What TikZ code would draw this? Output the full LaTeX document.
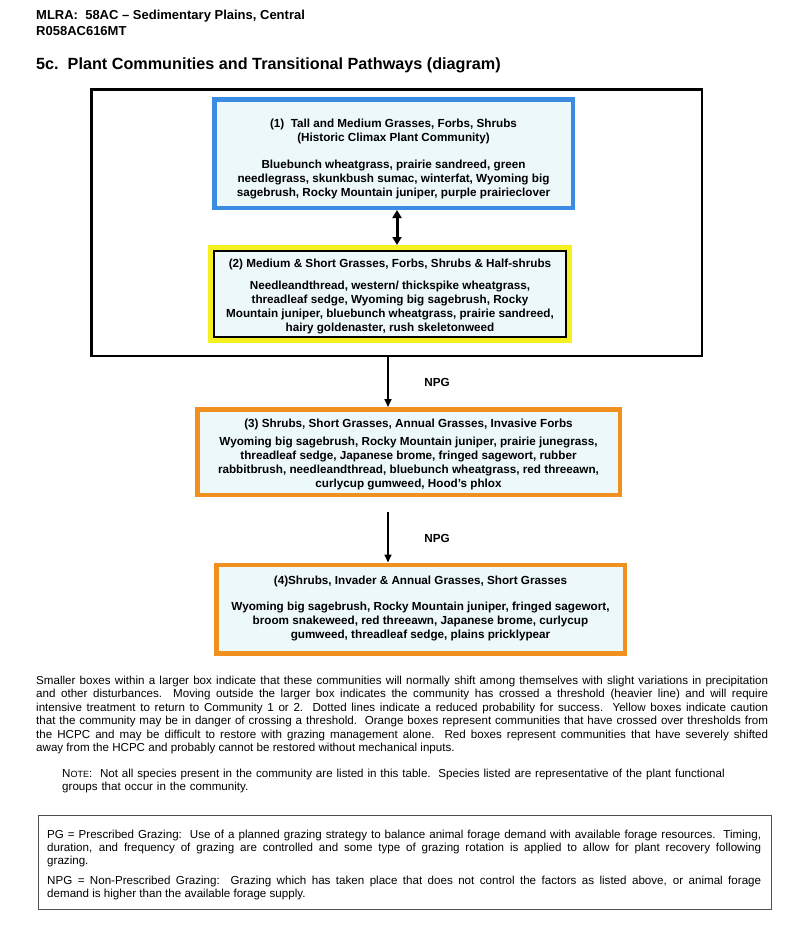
\documentclass[tikz,border=0pt]{standalone}
\usepackage{fontspec}
\setmainfont{Liberation Sans}
\usetikzlibrary{arrows.meta}
\definecolor{boxfill}{HTML}{ECF8FA}
\definecolor{blueb}{HTML}{3B8BE3}
\definecolor{yellowb}{HTML}{F5F020}
\definecolor{orangeb}{HTML}{F0911F}
\definecolor{legendb}{HTML}{505050}
\tikzset{
  boxtext/.style={font=\bfseries\fontsize{11.7}{14}\selectfont, align=center, inner sep=0pt},
  bluebox/.style={draw=blueb, line width=4.5pt, fill=boxfill},
  yellowbox/.style={draw=yellowb, line width=5pt, fill=boxfill},
  innerbox/.style={draw=black, line width=1.5pt},
  orangebox/.style={draw=orangeb, line width=4.5pt, fill=boxfill},
  outerbox/.style={draw=black, line width=2.5pt},
  npgarrow/.style={draw=black, line width=1.6pt, -{Triangle[length=8pt,width=7pt]}},
  dblarrow/.style={draw=black, line width=3pt, {Triangle[length=8pt,width=9pt]}-{Triangle[length=8pt,width=9pt]}},
  lbl/.style={font=\bfseries\fontsize{11.7}{14}\selectfont, inner sep=0pt},
  para/.style={font=\fontsize{11.6}{13.5}\selectfont, inner sep=0pt, anchor=north west},
  headtext/.style={font=\bfseries\fontsize{13}{15}\selectfont, anchor=west, inner sep=0pt},
}
\begin{document}
\begin{tikzpicture}[x=1pt,y=-1pt]
\useasboundingbox (0,0) rectangle (800,948);
\fill[white] (0,0) rectangle (800,948);

% header
\node[headtext] (h1) at (36,16.5) {MLRA:\ \ 58AC – Sedimentary Plains, Central};
\node[headtext] (h2) at (36,31.5) {R058AC616MT};
\node[font=\bfseries\fontsize{16.2}{19}\selectfont, anchor=west, inner sep=0pt] (title) at (36,65.5) {5c.\ \ Plant Communities and Transitional Pathways (diagram)};

% outer threshold box
\node[outerbox, minimum width=610.5pt, minimum height=266.5pt, inner sep=0pt] (outer) at (396.5,222.5) {};

% community 1
\node[bluebox, minimum width=358.5pt, minimum height=108.5pt, inner sep=0pt] (b1) at (393.5,153.5) {};
\node[boxtext] (t1) at (393.5,159) {(1)\ \ Tall and Medium Grasses, Forbs, Shrubs\\(Historic Climax Plant Community)\\[13pt]Bluebunch wheatgrass, prairie sandreed, green\\needlegrass, skunkbush sumac, winterfat, Wyoming big\\sagebrush, Rocky Mountain juniper, purple prairieclover};

% community 2
\node[yellowbox, minimum width=359pt, minimum height=93pt, inner sep=0pt] (b2) at (390,294) {};
\node[innerbox, minimum width=352pt, minimum height=86pt, inner sep=0pt] (b2i) at (b2.center) {};
\node[boxtext] (t2) at (390,296) {(2) Medium \& Short Grasses, Forbs, Shrubs \& Half-shrubs\\[8pt]Needleandthread, western/ thickspike wheatgrass,\\threadleaf sedge, Wyoming big sagebrush, Rocky\\Mountain juniper, bluebunch wheatgrass, prairie sandreed,\\hairy goldenaster, rush skeletonweed};

% community 3
\node[orangebox, minimum width=422.5pt, minimum height=85.5pt, inner sep=0pt] (b3) at (408.5,452) {};
\node[boxtext] (t3) at (408.5,454) {(3) Shrubs, Short Grasses, Annual Grasses, Invasive Forbs\\[4pt]Wyoming big sagebrush, Rocky Mountain juniper, prairie junegrass,\\threadleaf sedge, Japanese brome, fringed sagewort, rubber\\rabbitbrush, needleandthread, bluebunch wheatgrass, red threeawn,\\curlycup gumweed, Hood's phlox};

% community 4
\node[orangebox, minimum width=408.5pt, minimum height=88.5pt, inner sep=0pt] (b4) at (420.5,609) {};
\node[boxtext] (t4) at (420.5,608) {(4)Shrubs, Invader \& Annual Grasses, Short Grasses\\[12pt]Wyoming big sagebrush, Rocky Mountain juniper, fringed sagewort,\\broom snakeweed, red threeawn, Japanese brome, curlycup\\gumweed, threadleaf sedge, plains pricklypear};

% transitions
\draw[dblarrow] ([xshift=3.5pt]b1.south) -- ([xshift=3.5pt]b1.south |- b2.north);
\draw[npgarrow] ([xshift=-8.5pt]outer.south) -- ([xshift=-8.5pt]outer.south |- b3.north);
\node[lbl] (n1) at (437,382) {NPG};
\coordinate (c2) at (388,512);
\draw[npgarrow] (c2) -- (c2 |- b4.north);
\node[lbl] (n2) at (437,538) {NPG};

% explanatory paragraph
\node[para, text width=732pt, align=justify] (expl) at (36,675.5) {Smaller boxes within a larger box indicate that these communities will normally shift among themselves with slight variations in precipitation\linebreak and other disturbances.\ \ Moving outside the larger box indicates the community has crossed a threshold (heavier line) and will require\linebreak intensive treatment to return to Community 1 or 2.\ \ Dotted lines indicate a reduced probability for success.\ \ Yellow boxes indicate caution\linebreak that the community may be in danger of crossing a threshold.\ \ Orange boxes represent communities that have crossed over thresholds from\linebreak the HCPC and may be difficult to restore with grazing management alone.\ \ Red boxes represent communities that have severely shifted\linebreak away from the HCPC and probably cannot be restored without mechanical inputs.};

\node[para, font=\fontsize{11.6}{13.2}\selectfont, text width=720pt, align=left] (note) at (62,768.5) {N{\fontsize{9}{10}\selectfont OTE}:\ \ Not all species present in the community are listed in this table.\ \ Species listed are representative of the plant functional\\groups that occur in the community.};

% legend box
\node[draw=legendb, line width=1.3pt, minimum width=733pt, minimum height=94pt, inner sep=0pt, anchor=north west] (legend) at (37.5,815) {};
\node[font=\fontsize{11.6}{13}\selectfont, inner sep=0pt, anchor=north west, text width=714pt, align=justify] (lt) at (47,829.5) {PG = Prescribed Grazing:\ \ Use of a planned grazing strategy to balance animal forage demand with available forage resources.\ \ Timing,\linebreak duration, and frequency of grazing are controlled and some type of grazing rotation is applied to allow for plant recovery following\linebreak grazing.\par\vspace{7pt}NPG = Non-Prescribed Grazing:\ \ Grazing which has taken place that does not control the factors as listed above, or animal forage\linebreak demand is higher than the available forage supply.};
\end{tikzpicture}
\end{document}
